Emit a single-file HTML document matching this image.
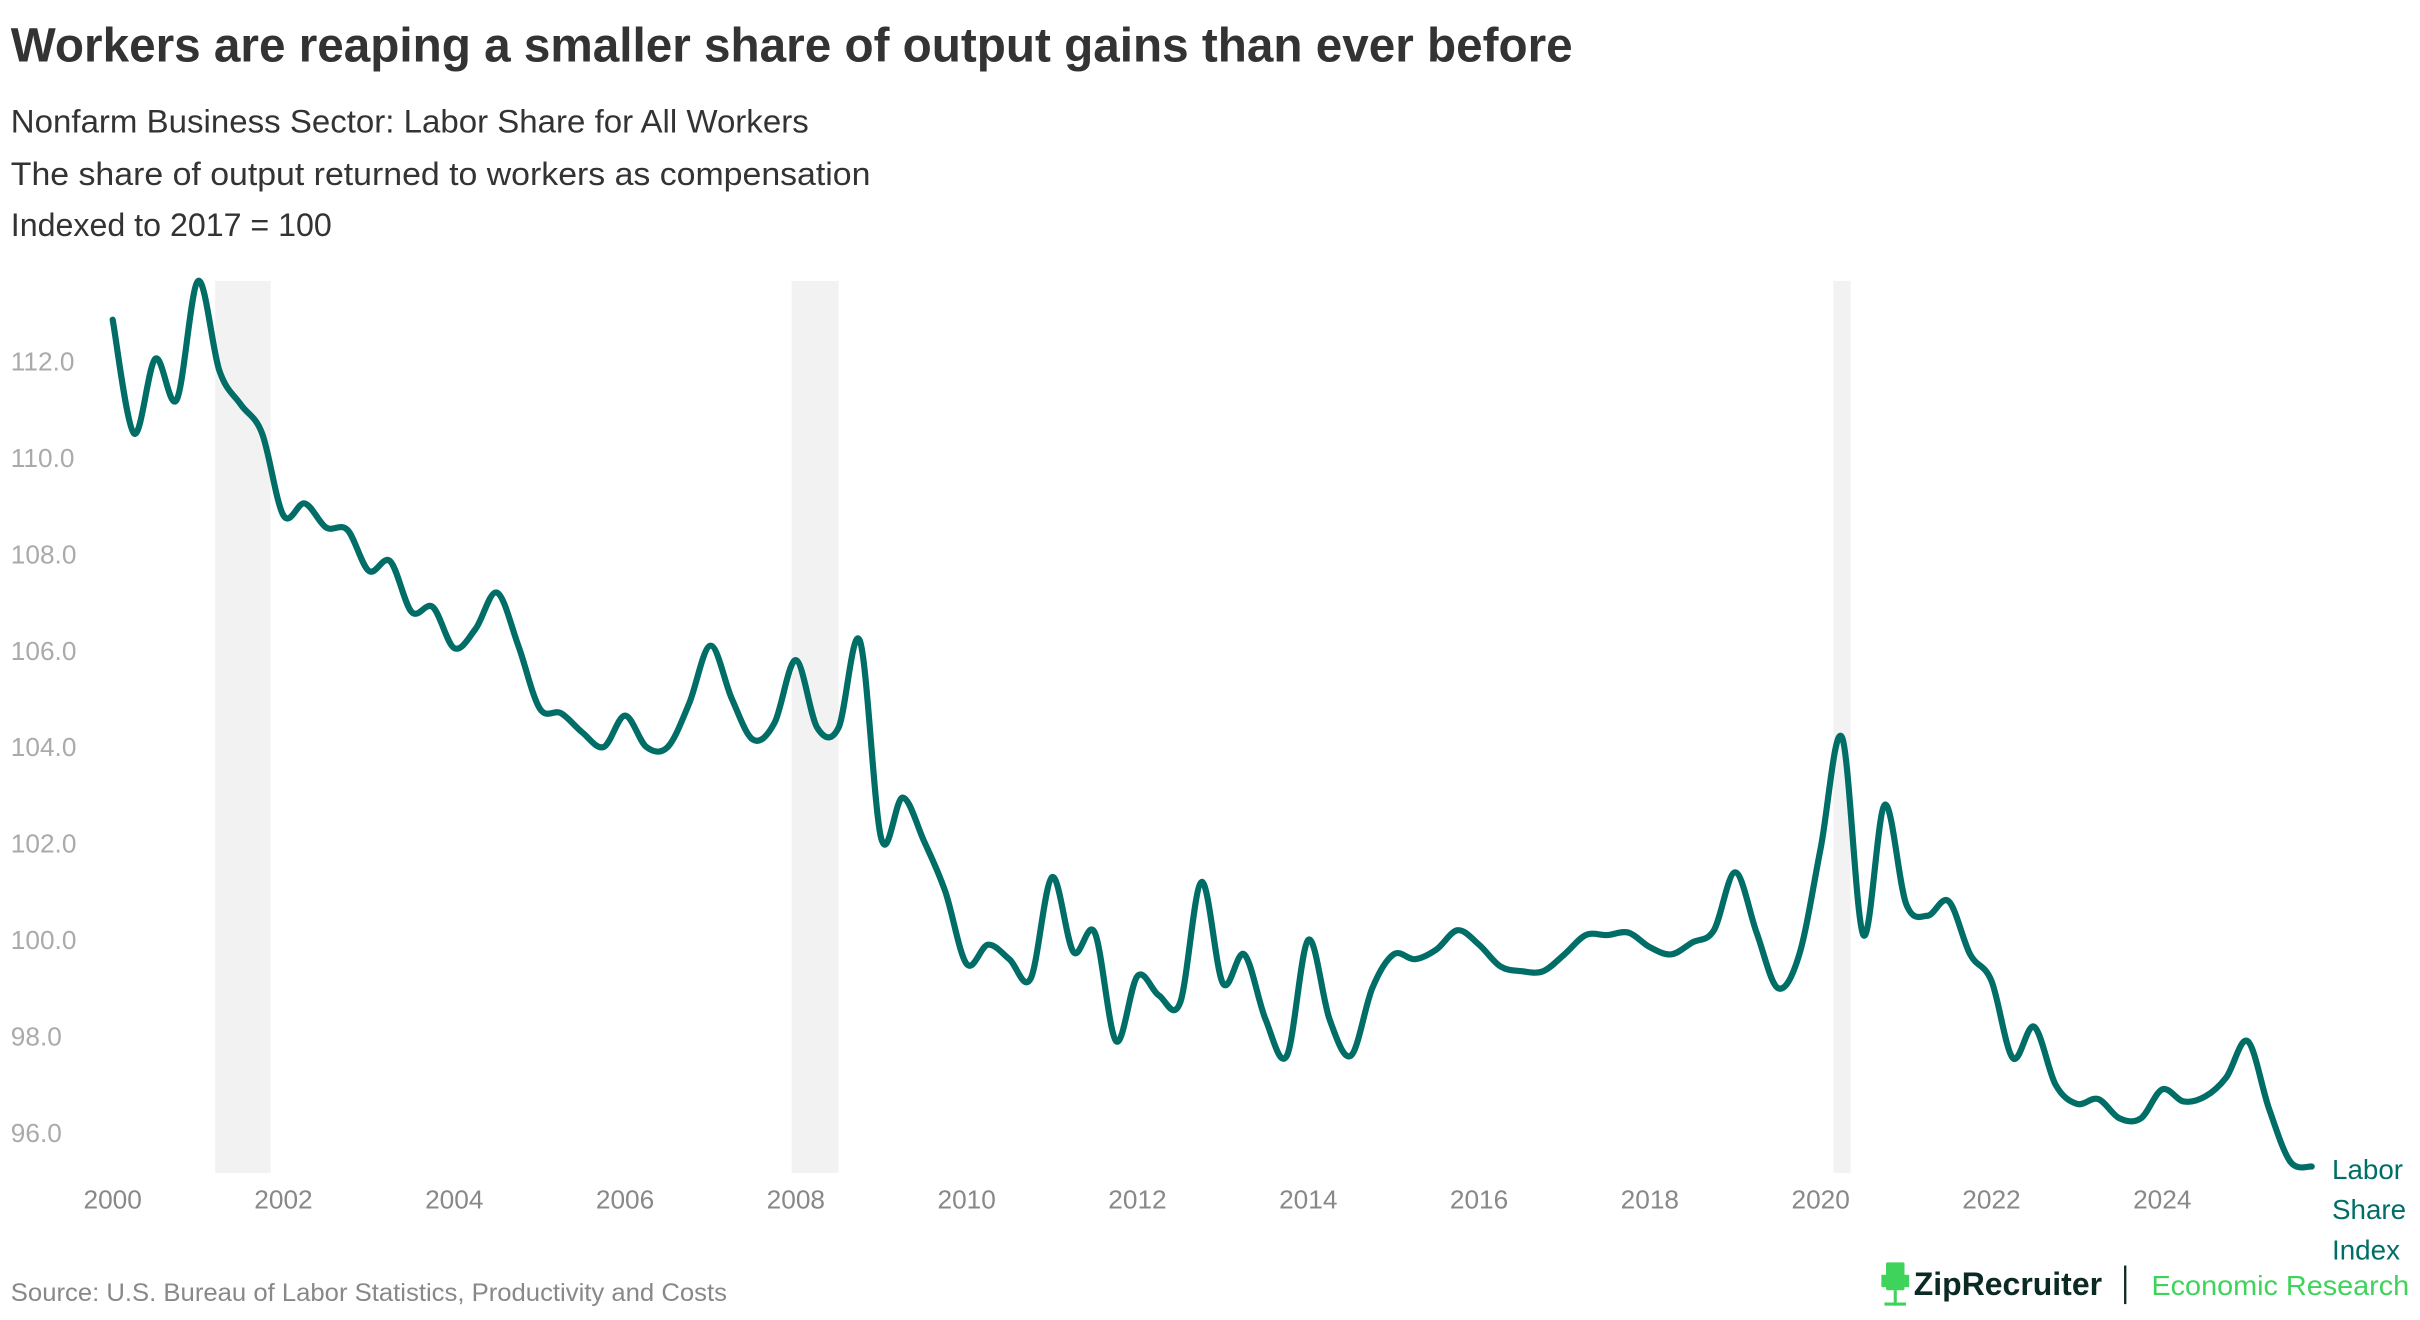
<!DOCTYPE html>
<html><head><meta charset="utf-8"><style>
html,body{margin:0;padding:0;background:#fff;}
svg{display:block;}
text{font-family:"Liberation Sans",sans-serif;}
</style></head><body>
<svg id="chart" width="2420" height="1320" viewBox="0 0 1568 855.3" preserveAspectRatio="none" xmlns="http://www.w3.org/2000/svg">
<text x="7" y="40" font-size="31" font-weight="bold" fill="#333" textLength="1012" lengthAdjust="spacingAndGlyphs">Workers are reaping a smaller share of output gains than ever before</text>
<text x="7" y="86" font-size="21" fill="#333" textLength="517" lengthAdjust="spacingAndGlyphs">Nonfarm Business Sector: Labor Share for All Workers</text>
<text x="7" y="120" font-size="21" fill="#333" textLength="557" lengthAdjust="spacingAndGlyphs">The share of output returned to workers as compensation</text>
<text x="7" y="153" font-size="21" fill="#333" textLength="208" lengthAdjust="spacingAndGlyphs">Indexed to 2017 = 100</text>
<g id="rec"></g>
<g id="yax"></g>
<g id="xax"></g>
<g id="ln"></g>
<text font-size="18" fill="#006e66"><tspan x="1511" y="764">Labor</tspan><tspan x="1511" y="790">Share</tspan><tspan x="1511" y="816">Index</tspan></text>
<text x="7" y="843" font-size="16" fill="#888" textLength="464" lengthAdjust="spacingAndGlyphs">Source: U.S. Bureau of Labor Statistics, Productivity and Costs</text>
<g>
<rect x="1222" y="818" width="12" height="18" rx="1" fill="#3fd35c"/>
<rect x="1219" y="826" width="3" height="8" fill="#3fd35c"/>
<rect x="1234" y="826" width="3" height="8" fill="#3fd35c"/>
<line x1="1228" y1="836" x2="1228" y2="846" stroke="#3fd35c" stroke-width="2"/>
<line x1="1221" y1="845" x2="1235" y2="845" stroke="#3fd35c" stroke-width="2"/>
<text x="1240" y="839" font-size="21" font-weight="bold" fill="#0b2a24" textLength="122" lengthAdjust="spacingAndGlyphs">ZipRecruiter</text>
<line x1="1377" y1="820" x2="1377" y2="845" stroke="#0b2a24" stroke-width="1.5"/>
<text x="1394" y="839" font-size="18" fill="#3fd35c" textLength="167" lengthAdjust="spacingAndGlyphs">Economic Research</text>
</g>
</svg>
<script>
const yearsStart = 2000;
const values = [112.86,110.5,112.05,111.2,113.66,111.8,111.1,110.5,108.8,109.05,108.55,108.5,107.65,107.85,106.8,106.9,106.05,106.45,107.2,106.1,104.8,104.7,104.3,104.0,104.65,104.0,104.0,104.9,106.1,105.0,104.15,104.5,105.8,104.4,104.4,106.2,102.1,102.95,102.05,101.0,99.5,99.9,99.6,99.2,101.3,99.75,100.15,97.9,99.25,98.85,98.7,101.2,99.1,99.7,98.35,97.6,100.0,98.35,97.6,99.0,99.7,99.6,99.8,100.2,99.9,99.45,99.35,99.35,99.7,100.1,100.1,100.15,99.85,99.7,99.95,100.2,101.4,100.15,99.0,99.7,101.9,104.2,100.1,102.8,100.75,100.5,100.8,99.7,99.15,97.55,98.2,97.0,96.6,96.7,96.3,96.3,96.9,96.65,96.75,97.15,97.9,96.5,95.4,95.3];
const yTicks = [96,98,100,102,104,106,108,110,112];
const xTicks = [2000,2002,2004,2006,2008,2010,2012,2014,2016,2018,2020,2022,2024];
const recStart = [2001.2,2007.95,2020.15];
const recEnd = [2001.85,2008.5,2020.35];
const NS="http://www.w3.org/2000/svg";
function xs(t){return 73+(t-2000)*(1401-73)/24;}
function ys(v){return 234+(112-v)*31.25;}
function mk(tag,attrs,parent){const e=document.createElementNS(NS,tag);for(const k in attrs)e.setAttribute(k,attrs[k]);parent.appendChild(e);return e;}
const rec=document.getElementById('rec');
recStart.forEach((s,i)=>{const r=mk('rect',{x:xs(s),y:182,width:xs(recEnd[i])-xs(s),height:578,fill:'#f2f2f2'},rec);

});
const yax=document.getElementById('yax');
yTicks.forEach(v=>{const t=mk('text',{x:7,y:ys(v)+6,'font-size':17,fill:'#aaa'},yax);t.textContent=v.toFixed(1);

});
const xax=document.getElementById('xax');
xTicks.forEach(v=>{const t=mk('text',{x:xs(v),y:783,'font-size':17,fill:'#888','text-anchor':'middle'},xax);t.textContent=v;

});
const pts=values.map((v,i)=>[xs(yearsStart+i*0.25),ys(v)]);
let d='M'+pts[0][0]+','+pts[0][1];
for(let i=0;i<pts.length-1;i++){const p0=pts[Math.max(0,i-1)],p1=pts[i],p2=pts[i+1],p3=pts[Math.min(pts.length-1,i+2)];
const c1=[p1[0]+(p2[0]-p0[0])/6,p1[1]+(p2[1]-p0[1])/6],c2=[p2[0]-(p3[0]-p1[0])/6,p2[1]-(p3[1]-p1[1])/6];
d+=' C'+c1+' '+c2+' '+p2;}
const path=mk('path',{d:d,fill:'none',stroke:'#006e66','stroke-width':4,'stroke-linecap':'round','stroke-linejoin':'round'},document.getElementById('ln'));


</script>
</body></html>
